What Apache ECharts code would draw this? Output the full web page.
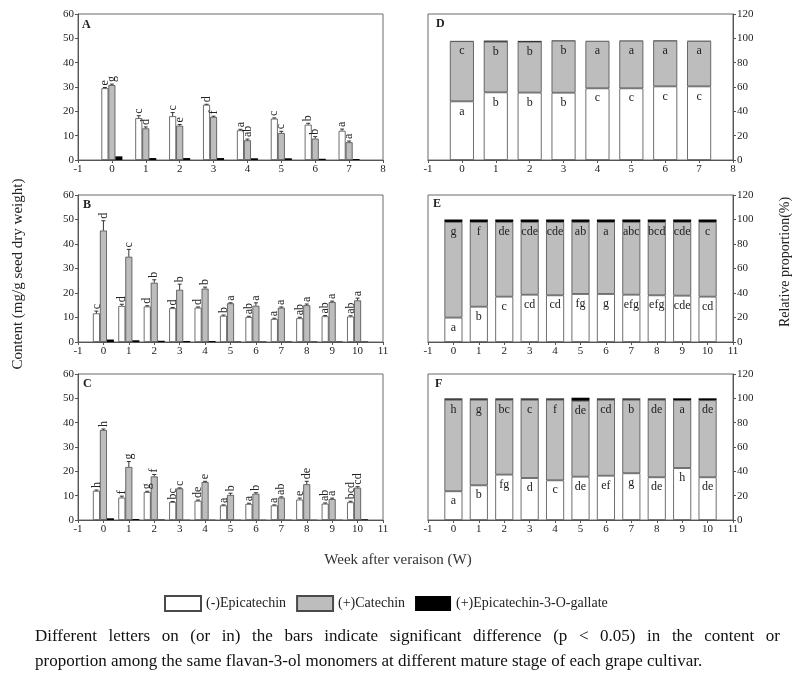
<!DOCTYPE html>
<html>
<head>
<meta charset="utf-8">
<title>Flavan-3-ol monomers</title>
<script src="https://cdn.jsdelivr.net/npm/echarts@6/dist/echarts.min.js"></script>
<style>
  html, body { margin: 0; padding: 0; background: #fff; }
  #main { width: 797px; height: 685px; }
</style>
</head>
<body>
<div id="main"></div>
<script>
// x categories (weeks after veraison), -1 and last are empty ends of the axis
const weeksA = ['-1', '0', '1', '2', '3', '4', '5', '6', '7', '8']
const weeksBC = ['-1', '0', '1', '2', '3', '4', '5', '6', '7', '8', '9', '10', '11']

// content, mg/g seed dry weight
const epiA = [29.5, 17.2, 18.0, 22.7, 12.2, 17.0, 14.5, 12.0]
const catA = [30.8, 13.0, 14.1, 17.7, 8.1, 11.1, 8.8, 7.3]
const ecgA = [1.5, 0.8, 0.8, 0.8, 0.7, 0.7, 0.5, 0.4]
const epiErrA = [0.3, 1.0, 1.5, 0.2, 0.4, 0.3, 0.6, 0.7]
const catErrA = [0.4, 0.6, 0.5, 0.3, 0.5, 0.7, 0.8, 0.5]
const epiLetA = ['e', 'c', 'c', 'd', 'a', 'c', 'b', 'a']
const catLetA = ['g', 'd', 'e', 'f', 'ab', 'c', 'b', 'a']

const epiB = [11.7, 14.7, 14.5, 13.8, 14.0, 10.7, 10.2, 9.4, 9.7, 10.5, 10.4]
const catB = [45.5, 34.8, 24.2, 21.3, 21.8, 15.8, 14.8, 14.0, 15.0, 16.3, 17.0]
const ecgB = [1.0, 0.7, 0.5, 0.4, 0.4, 0.2, 0.2, 0.2, 0.2, 0.2, 0.2]
const epiErrB = [0.9, 0.7, 0.3, 0.3, 0.3, 0.3, 0.3, 0.3, 0.4, 0.3, 0.3]
const catErrB = [4.0, 3.0, 1.2, 2.3, 0.6, 0.2, 1.2, 0.3, 0.5, 0.4, 0.9]
const epiLetB = ['c', 'd', 'd', 'd', 'd', 'b', 'ab', 'a', 'ab', 'ab', 'ab']
const catLetB = ['d', 'c', 'b', 'b', 'b', 'a', 'a', 'a', 'a', 'a', 'a']

const epiC = [12.0, 9.2, 11.5, 7.4, 7.9, 6.0, 6.6, 6.0, 8.4, 6.7, 7.3]
const catC = [37.0, 21.8, 17.9, 13.0, 15.6, 10.3, 10.8, 9.2, 14.7, 8.6, 13.3]
const ecgC = [0.7, 0.4, 0.2, 0.1, 0.1, 0.1, 0.1, 0.1, 0.1, 0.1, 0.3]
const epiErrC = [0.3, 0.6, 0.3, 0.2, 0.3, 0.2, 0.3, 0.2, 0.6, 0.3, 0.4]
const catErrC = [0.4, 2.2, 0.8, 0.2, 0.3, 0.7, 0.4, 0.3, 1.2, 0.4, 0.4]
const epiLetC = ['h', 'f', 'g', 'bc', 'de', 'a', 'a', 'a', 'e', 'ab', 'bcd']
const catLetC = ['h', 'g', 'f', 'c', 'e', 'b', 'b', 'ab', 'de', 'a', 'cd']

// relative proportion, %
const epiD = [48.2, 55.6, 55.4, 55.3, 58.9, 58.9, 60.5, 60.5]
const catD = [49.5, 41.7, 41.8, 42.8, 38.9, 39.2, 37.6, 37.3]
const ecgD = [0.2, 0.8, 0.7, 0.3, 0.1, 0.2, 0.3, 0.2]
const epiLetD = ['a', 'b', 'b', 'b', 'c', 'c', 'c', 'c']
const catLetD = ['c', 'b', 'b', 'b', 'a', 'a', 'a', 'a']

const epiE = [19.9, 28.8, 37.0, 38.6, 38.1, 39.2, 39.2, 38.6, 38.1, 37.8, 37.0]
const catE = [78.1, 69.2, 61.0, 59.4, 59.9, 58.8, 58.8, 59.4, 59.9, 60.2, 61.0]
const ecgE = [2.0, 2.0, 2.0, 2.0, 2.0, 2.0, 2.0, 2.0, 2.0, 2.0, 2.0]
const epiLetE = ['a', 'b', 'c', 'cd', 'cd', 'fg', 'g', 'efg', 'efg', 'cde', 'cd']
const catLetE = ['g', 'f', 'de', 'cde', 'cde', 'ab', 'a', 'abc', 'bcd', 'cde', 'c']

const epiF = [23.6, 28.5, 37.3, 34.5, 32.6, 35.6, 36.4, 38.4, 35.1, 42.7, 35.1]
const catF = [75.3, 70.4, 61.6, 64.4, 66.3, 62.4, 62.5, 60.5, 63.8, 55.8, 63.4]
const ecgF = [1.0, 1.0, 1.0, 1.0, 1.0, 2.5, 1.0, 1.0, 1.0, 1.5, 1.5]
const epiLetF = ['a', 'b', 'fg', 'd', 'c', 'de', 'ef', 'g', 'de', 'h', 'de']
const catLetF = ['h', 'g', 'bc', 'c', 'f', 'de', 'cd', 'b', 'de', 'a', 'de']

const NAMES = ['(-)Epicatechin', '(+)Catechin', '(+)Epicatechin-3-O-gallate']
const FONT = '"Liberation Serif", "Times New Roman", serif'

const chart = echarts.init(document.getElementById('main'))

// grid boxes: A B C on the left, D E F on the right
const grids = [
  { left: 78, top: 14, width: 305, height: 146 },
  { left: 78, top: 195, width: 305, height: 147 },
  { left: 78, top: 374, width: 305, height: 146 },
  { left: 428, top: 14, width: 305, height: 146 },
  { left: 428, top: 195, width: 305, height: 147 },
  { left: 428, top: 374, width: 305, height: 146 }
].map(g => Object.assign({ show: true, borderColor: '#6a6a6a', borderWidth: 1 }, g))

const pad = a => [null].concat(a).concat([null])

const axisText = { color: '#222', fontSize: 11, fontFamily: FONT }

const xAxes = grids.map((g, i) => ({
  type: 'category',
  gridIndex: i,
  data: (i === 0 || i === 3) ? weeksA : weeksBC,
  boundaryGap: false,
  axisLine: { lineStyle: { color: '#555' } },
  axisTick: { length: 3, lineStyle: { color: '#555' } },
  axisLabel: Object.assign({ margin: 4, interval: 0 }, axisText),
  splitLine: { show: false }
}))

const yAxes = grids.map((g, i) => i < 3 ? {
  type: 'value', gridIndex: i, min: 0, max: 60, interval: 10,
  axisLine: { show: true, lineStyle: { color: '#555' } },
  axisTick: { show: true, length: 3, lineStyle: { color: '#555' } },
  axisLabel: Object.assign({ margin: 4 }, axisText),
  splitLine: { show: false }
} : {
  type: 'value', gridIndex: i, position: 'right', min: 0, max: 120, interval: 20,
  axisLine: { show: true, lineStyle: { color: '#555' } },
  axisTick: { show: true, length: 3, lineStyle: { color: '#555' } },
  axisLabel: Object.assign({ margin: 4 }, axisText),
  splitLine: { show: false }
})

const barStyles = [
  { color: '#ffffff', borderColor: '#4a4a4a', borderWidth: 0.8 },
  { color: '#bdbdbd', borderColor: '#4a4a4a', borderWidth: 0.8 },
  { color: '#000000' }
]

// error bar + rotated significance letter above a bar
function errLetters(off, letters) {
  return function (params, api) {
    const i = api.value(0), v = api.value(1), e = api.value(2)
    const b = api.coord([i, v])
    const t = api.coord([i, v + e])
    const x = b[0] + off
    const kids = []
    if (e > 0) {
      kids.push({ type: 'line', shape: { x1: x, y1: b[1], x2: x, y2: t[1] }, style: { stroke: '#333', lineWidth: 1 } })
      kids.push({ type: 'line', shape: { x1: x - 2, y1: t[1], x2: x + 2, y2: t[1] }, style: { stroke: '#333', lineWidth: 1 } })
    }
    kids.push({
      type: 'text', x: x, y: t[1] - 2, rotation: Math.PI / 2,
      style: { text: letters[params.dataIndex], font: '12px ' + FONT, fill: '#222', align: 'left', verticalAlign: 'middle' }
    })
    return { type: 'group', children: kids }
  }
}

const series = []

const content = [
  [epiA, catA, ecgA, epiErrA, catErrA, epiLetA, catLetA],
  [epiB, catB, ecgB, epiErrB, catErrB, epiLetB, catLetB],
  [epiC, catC, ecgC, epiErrC, catErrC, epiLetC, catLetC]
]
const BW = 7
content.forEach((p, g) => {
  [p[0], p[1], p[2]].forEach((vals, k) => {
    series.push({
      type: 'bar', name: NAMES[k], xAxisIndex: g, yAxisIndex: g,
      data: pad(vals), barWidth: BW, barGap: '0%',
      itemStyle: barStyles[k], silent: true
    })
  })
  series.push({
    type: 'custom', xAxisIndex: g, yAxisIndex: g, z: 5, silent: true,
    data: p[0].map((v, i) => [i + 1, v, p[3][i]]),
    renderItem: errLetters(-BW, p[5])
  })
  series.push({
    type: 'custom', xAxisIndex: g, yAxisIndex: g, z: 5, silent: true,
    data: p[1].map((v, i) => [i + 1, v, p[4][i]]),
    renderItem: errLetters(0, p[6])
  })
})

const props = [
  [epiD, catD, ecgD, epiLetD, catLetD, 24],
  [epiE, catE, ecgE, epiLetE, catLetE, 18],
  [epiF, catF, ecgF, epiLetF, catLetF, 18]
]
props.forEach((p, j) => {
  const g = j + 3
  ;[p[0], p[1], p[2]].forEach((vals, k) => {
    const lets = k === 0 ? p[3] : (k === 1 ? p[4] : null)
    series.push({
      type: 'bar', name: NAMES[k], xAxisIndex: g, yAxisIndex: g, stack: 'prop' + g,
      data: pad(vals), barWidth: p[5],
      itemStyle: barStyles[k], silent: true,
      label: {
        show: !!lets, position: 'insideTop', distance: 4,
        color: '#222', fontSize: 12, fontFamily: FONT,
        formatter: q => lets ? (lets[q.dataIndex - 1] || '') : ''
      }
    })
  })
})

// plain text pieces: panel letters, axis titles, caption
const graphic = []
const panelTags = [['A', 82, 25], ['B', 83, 205], ['C', 83, 384], ['D', 436, 24], ['E', 433, 204], ['F', 435, 384]]
panelTags.forEach(t => graphic.push({
  type: 'text', x: t[1], y: t[2],
  style: { text: t[0], font: 'bold 12px ' + FONT, fill: '#222', verticalAlign: 'middle' }
}))
graphic.push({
  type: 'text', x: 18, y: 274, rotation: Math.PI / 2,
  style: { text: 'Content (mg/g seed dry weight)', font: '15px ' + FONT, fill: '#222', align: 'center', verticalAlign: 'middle' }
})
graphic.push({
  type: 'text', x: 785, y: 262, rotation: Math.PI / 2,
  style: { text: 'Relative proportion(%)', font: '14px ' + FONT, fill: '#222', align: 'center', verticalAlign: 'middle' }
})
graphic.push({
  type: 'text', x: 398, y: 560,
  style: { text: 'Week after veraison (W)', font: '15px ' + FONT, fill: '#333', align: 'center', verticalAlign: 'middle' }
})

// caption, first line justified between 35 and 780
const capFont = '17px ' + FONT
const line1 = 'Different letters on (or in) the bars indicate significant difference (p < 0.05) in the content or'
const line2 = 'proportion among the same flavan-3-ol monomers at different mature stage of each grape cultivar.'
const ctx = document.createElement('canvas').getContext('2d')
ctx.font = capFont
const words = line1.split(' ')
const wordsW = words.map(w => ctx.measureText(w).width)
const gap = (780 - 35 - wordsW.reduce((a, b) => a + b, 0)) / (words.length - 1)
let cx = 35
words.forEach((w, i) => {
  graphic.push({ type: 'text', x: cx, y: 637, style: { text: w, font: capFont, fill: '#111', verticalAlign: 'middle' } })
  cx += wordsW[i] + gap
})
graphic.push({ type: 'text', x: 35, y: 662, style: { text: line2, font: capFont, fill: '#111', verticalAlign: 'middle' } })

chart.setOption({
  backgroundColor: '#fff',
  animation: false,
  grid: grids,
  xAxis: xAxes,
  yAxis: yAxes,
  legend: {
    data: NAMES.map(n => ({ name: n, icon: 'rect' })),
    left: 164, top: 595, padding: 0, itemWidth: 36, itemHeight: 15, itemGap: 10,
    selectedMode: false,
    textStyle: { fontSize: 14, fontFamily: FONT, color: '#222' }
  },
  graphic: graphic,
  series: series
})
</script>
</body>
</html>
